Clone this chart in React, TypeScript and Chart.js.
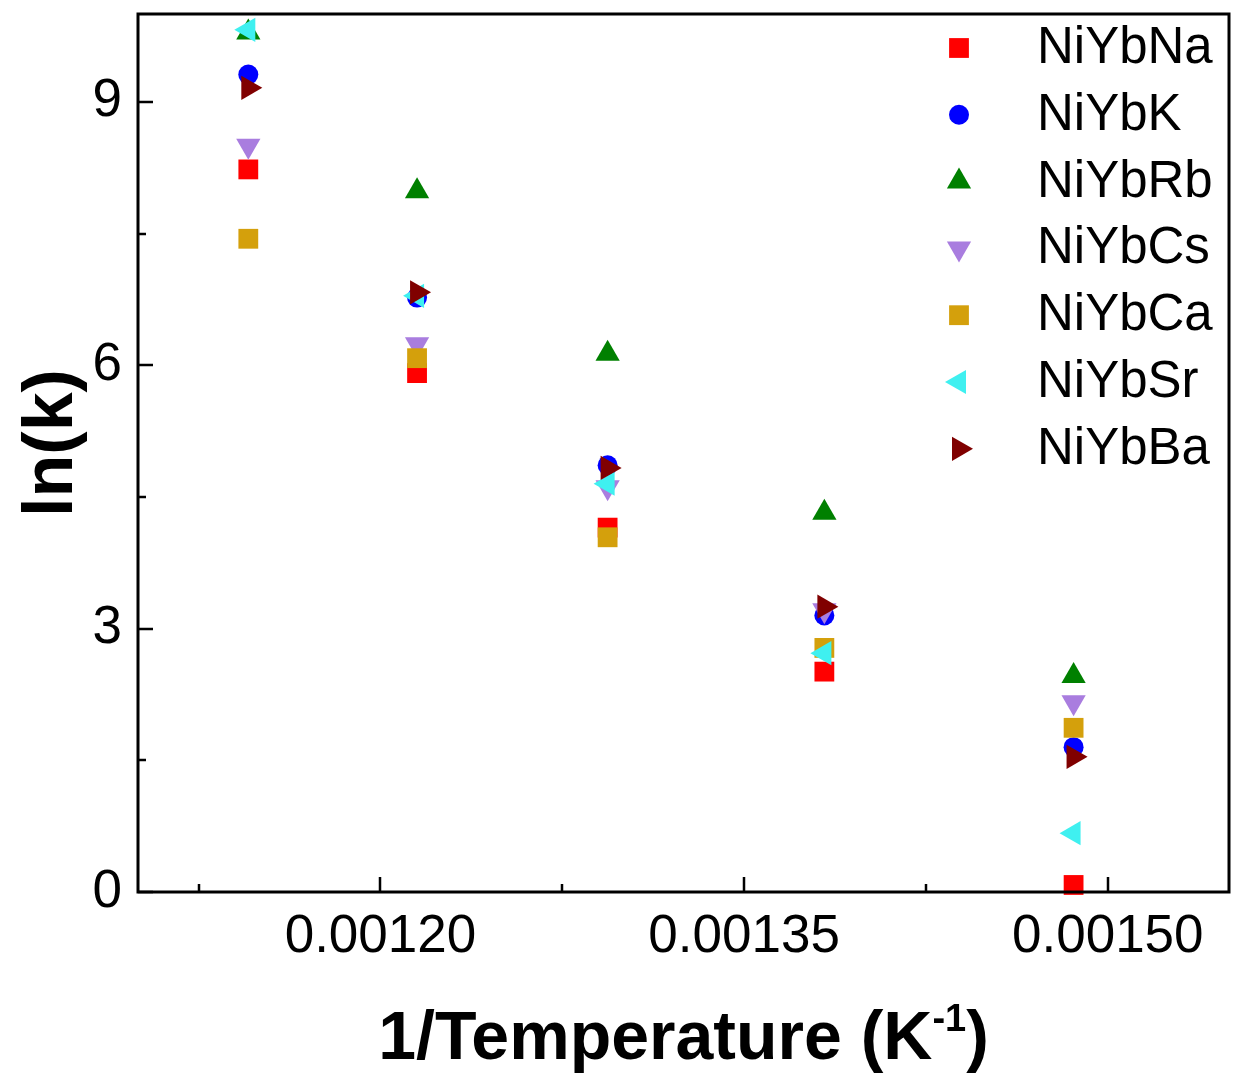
import React, { useEffect, useRef } from "react";
import { Chart, registerables } from "chart.js";

Chart.register(...registerables);

// 1/T values (K^-1) for 873, 823, 773, 723, 673 K
const X_INV_T = [0.0011455, 0.0012151, 0.0012937, 0.0013831, 0.0014859];

const SERIES_NAMES = ["NiYbNa", "NiYbK", "NiYbRb", "NiYbCs", "NiYbCa", "NiYbSr", "NiYbBa"];

const NIYBNA = [8.23, 5.91, 4.15, 2.51, 0.08];
const NIYBK = [9.31, 6.77, 4.86, 3.15, 1.65];
const NIYBRB = [9.79, 7.98, 6.13, 4.32, 2.46];
const NIYBCS = [8.5, 6.24, 4.61, 3.21, 2.16];
const NIYBCA = [7.44, 6.08, 4.04, 2.78, 1.87];
const NIYBSR = [9.82, 6.79, 4.65, 2.72, 0.67];
const NIYBBA = [9.16, 6.83, 4.83, 3.25, 1.54];

const SERIES_VALUES = [NIYBNA, NIYBK, NIYBRB, NIYBCS, NIYBCA, NIYBSR, NIYBBA];

const X_TICKS = [0.0012, 0.00135, 0.0015];
const X_MINOR_TICKS = [0.001125, 0.001275, 0.001425];
const Y_TICKS = [0, 3, 6, 9];
const Y_MINOR_TICKS = [1.5, 4.5, 7.5];

const X_TITLE_MAIN = "1/Temperature (K";
const X_TITLE_SUP = "-1";
const X_TITLE_END = ")";
const Y_TITLE = "ln(k)";

type Marker = { color: string; shape: "rect" | "circle" | "triangle"; rotation: number; radius: number };

const MARKERS: Marker[] = [
  { color: "#ff0000", shape: "rect", rotation: 0, radius: 14 },
  { color: "#0000ff", shape: "circle", rotation: 0, radius: 10 },
  { color: "#008000", shape: "triangle", rotation: 0, radius: 14 },
  { color: "#a97ddf", shape: "triangle", rotation: 180, radius: 14 },
  { color: "#d4a00c", shape: "rect", rotation: 0, radius: 14 },
  { color: "#3ff0f0", shape: "triangle", rotation: 270, radius: 14 },
  { color: "#800000", shape: "triangle", rotation: 90, radius: 14 },
];

const FONT = "'Liberation Sans', Arial, sans-serif";

function drawMarker(ctx: CanvasRenderingContext2D, m: Marker, x: number, y: number) {
  ctx.save();
  ctx.fillStyle = m.color;
  ctx.beginPath();
  const r = m.radius;
  if (m.shape === "rect") {
    const s = Math.SQRT1_2 * r;
    ctx.rect(x - s, y - s, 2 * s, 2 * s);
  } else if (m.shape === "circle") {
    ctx.arc(x, y, r, 0, Math.PI * 2);
  } else {
    let rad = (m.rotation * Math.PI) / 180;
    for (let i = 0; i < 3; i++) {
      const px = x + Math.sin(rad) * r;
      const py = y - Math.cos(rad) * r;
      if (i === 0) ctx.moveTo(px, py);
      else ctx.lineTo(px, py);
      rad += (2 * Math.PI) / 3;
    }
    ctx.closePath();
  }
  ctx.fill();
  ctx.restore();
}

const decorPlugin = {
  id: "decor",
  afterDatasetsDraw(chart: any) {
    const ctx: CanvasRenderingContext2D = chart.ctx;
    const { left, right, top, bottom } = chart.chartArea;
    const xs = chart.scales.x;
    const ys = chart.scales.y;
    ctx.save();
    ctx.strokeStyle = "#000";
    ctx.lineWidth = 3;
    ctx.strokeRect(left, top, right - left, bottom - top);

    ctx.lineWidth = 2.5;
    ctx.beginPath();
    X_TICKS.forEach((v) => {
      const px = Math.round(xs.getPixelForValue(v));
      ctx.moveTo(px, bottom);
      ctx.lineTo(px, bottom - 15);
    });
    X_MINOR_TICKS.forEach((v) => {
      const px = Math.round(xs.getPixelForValue(v));
      ctx.moveTo(px, bottom);
      ctx.lineTo(px, bottom - 8);
    });
    Y_TICKS.forEach((v) => {
      const py = Math.round(ys.getPixelForValue(v));
      ctx.moveTo(left, py);
      ctx.lineTo(left + 15, py);
    });
    Y_MINOR_TICKS.forEach((v) => {
      const py = Math.round(ys.getPixelForValue(v));
      ctx.moveTo(left, py);
      ctx.lineTo(left + 8, py);
    });
    ctx.stroke();

    // legend
    ctx.font = `51px ${FONT}`;
    ctx.textAlign = "left";
    ctx.textBaseline = "middle";
    SERIES_NAMES.forEach((name, i) => {
      const y = 48 + i * 66.8;
      drawMarker(ctx, MARKERS[i], 959, y);
      ctx.fillStyle = "#000";
      ctx.fillText(name, 1037, y + 1);
    });

    // x title
    ctx.fillStyle = "#000";
    ctx.textBaseline = "alphabetic";
    const mainFont = `bold 68px ${FONT}`;
    const supFont = `bold 38px ${FONT}`;
    ctx.font = mainFont;
    const w1 = ctx.measureText(X_TITLE_MAIN).width;
    const w3 = ctx.measureText(X_TITLE_END).width;
    ctx.font = supFont;
    const w2 = ctx.measureText(X_TITLE_SUP).width;
    const total = w1 + w2 + w3;
    const cx = (left + right) / 2;
    const x0 = cx - total / 2;
    const base = 1059;
    ctx.font = mainFont;
    ctx.fillText(X_TITLE_MAIN, x0, base);
    ctx.font = supFont;
    ctx.fillText(X_TITLE_SUP, x0 + w1, base - 28);
    ctx.font = mainFont;
    ctx.fillText(X_TITLE_END, x0 + w1 + w2, base);

    // y title
    ctx.save();
    ctx.translate(72, 443);
    ctx.rotate(-Math.PI / 2);
    ctx.font = `bold 70px ${FONT}`;
    ctx.textAlign = "center";
    ctx.textBaseline = "alphabetic";
    ctx.fillText(Y_TITLE, 0, 0);
    ctx.restore();

    ctx.restore();
  },
};

export default function App() {
  const canvasRef = useRef<HTMLCanvasElement | null>(null);

  useEffect(() => {
    const canvas = canvasRef.current;
    if (!canvas) return;
    const n = SERIES_NAMES.length;
    const datasets = SERIES_NAMES.map((name, i) => {
      const m = MARKERS[i];
      return {
        label: name,
        order: n - 1 - i,
        data: X_INV_T.map((x, j) => ({ x, y: SERIES_VALUES[i][j] })),
        pointStyle: m.shape,
        pointRotation: m.rotation,
        pointRadius: m.radius,
        pointHoverRadius: m.radius,
        pointBackgroundColor: m.color,
        pointBorderColor: m.color,
        pointBorderWidth: 0,
        showLine: false,
        clip: false as any,
      };
    });
    const chart = new Chart(canvas, {
      type: "scatter",
      data: { datasets },
      options: {
        animation: false,
        responsive: false,
        devicePixelRatio: 1,
        layout: { autoPadding: false, padding: { top: 14, right: 4, left: 0, bottom: 0 } },
        plugins: {
          legend: { display: false },
          tooltip: { enabled: false },
        },
        scales: {
          x: {
            type: "linear",
            min: 0.0011,
            max: 0.00155,
            grid: { display: false, drawTicks: false },
            border: { display: false },
            afterBuildTicks: (scale: any) => {
              scale.ticks = X_TICKS.map((v) => ({ value: v }));
            },
            afterFit: (scale: any) => {
              scale.height = 186;
              scale.paddingLeft = 0;
              scale.paddingRight = 0;
              scale.paddingTop = 0;
              scale.paddingBottom = 0;
            },
            ticks: {
              autoSkip: false,
              maxRotation: 0,
              padding: 14,
              color: "#000",
              font: { family: FONT, size: 53 },
              callback: (v: any) => Number(v).toFixed(5),
            },
          },
          y: {
            type: "linear",
            min: 0,
            max: 10,
            grid: { display: false, drawTicks: false },
            border: { display: false },
            afterBuildTicks: (scale: any) => {
              scale.ticks = Y_TICKS.map((v) => ({ value: v }));
            },
            afterFit: (scale: any) => {
              scale.width = 138;
              scale.paddingLeft = 0;
              scale.paddingRight = 0;
              scale.paddingTop = 0;
              scale.paddingBottom = 0;
            },
            ticks: {
              autoSkip: false,
              padding: 16,
              color: "#000",
              font: { family: FONT, size: 53 },
              callback: (v: any) => String(v),
            },
          },
        },
      },
      plugins: [decorPlugin],
    } as any);
    return () => chart.destroy();
  }, []);

  return (
    <div style={{ position: "absolute", left: 0, top: 0, width: 1233, height: 1078, background: "#fff" }}>
      <canvas ref={canvasRef} width={1233} height={1078} style={{ display: "block", width: 1233, height: 1078 }} />
    </div>
  );
}
